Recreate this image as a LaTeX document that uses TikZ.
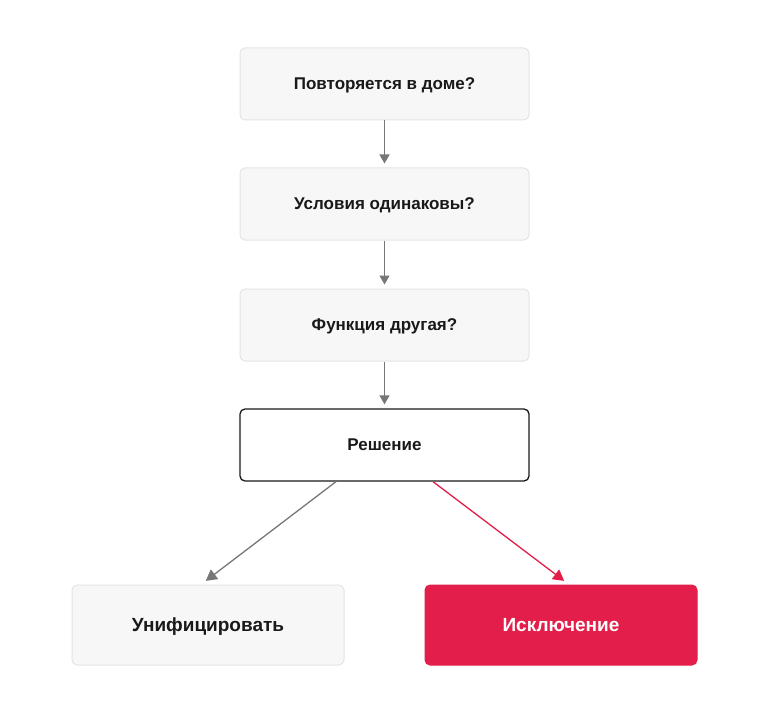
\documentclass[tikz,border=0pt]{standalone}
\usepackage{fontspec}
\setmainfont{Liberation Sans}
\usetikzlibrary{arrows.meta}
\definecolor{boxfill}{HTML}{F7F7F7}
\definecolor{boxline}{HTML}{E4E4E4}
\definecolor{arrgray}{HTML}{777777}
\definecolor{accent}{HTML}{E31E4A}
\tikzset{
  qbox/.style={draw=boxline, line width=1pt, fill=boxfill, rounded corners=5pt,
    minimum width=289pt, minimum height=72pt, inner sep=0pt, text depth=0pt,
    font=\fontsize{17}{20}\selectfont\bfseries, text=black!90},
  decbox/.style={qbox, draw=black!90, fill=white, line width=1.3pt},
  outbox/.style={qbox, minimum width=272pt, minimum height=80pt,
    font=\fontsize{19}{22}\selectfont\bfseries},
  redbox/.style={outbox, draw=accent, fill=accent, text=white},
  conn/.style={draw=arrgray, line width=1.3pt, -{Triangle[length=9pt,width=10pt]}},
  bigtip/.style={-{Triangle[length=11pt,width=12pt]}},
  redconn/.style={conn, draw=accent, fill=accent},
}
\begin{document}
\begin{tikzpicture}[x=1pt,y=-1pt]
\useasboundingbox (0,0) rectangle (770,722);
\node[qbox] (b1) at (384.5,84) {Повторяется в доме?};
\node[qbox] (b2) at (384.5,204) {Условия одинаковы?};
\node[qbox] (b3) at (384.5,325) {Функция другая?};
\node[decbox] (b4) at (384.5,445) {Решение};
\node[outbox] (b5) at (208,625) {Унифицировать};
\node[redbox] (b6) at (561,625) {Исключение};
\draw[conn, arrgray, shorten >=4pt] (b1.south) -- (b2.north);
\draw[conn, arrgray, shorten >=4pt] (b2.south) -- (b3.north);
\draw[conn, arrgray, shorten >=4pt] (b3.south) -- (b4.north);
\draw[conn, bigtip, arrgray, shorten >=6pt] ([xshift=-48.5pt]b4.south) -- ([xshift=-7pt]b5.north);
\draw[redconn, bigtip, accent, shorten >=6pt] ([xshift=48.5pt]b4.south) -- ([xshift=8pt]b6.north);
\end{tikzpicture}
\end{document}
